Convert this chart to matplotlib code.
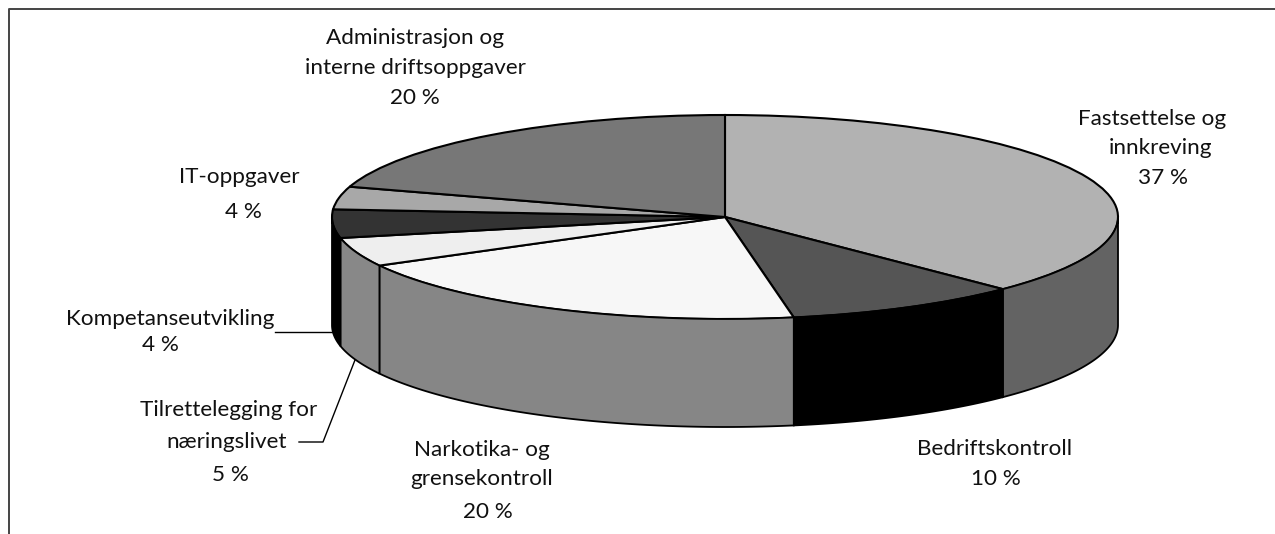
import numpy as np
import matplotlib
matplotlib.use("Agg")
import matplotlib.pyplot as plt

# clockwise from twelve o'clock
shares = [37.5, 9.7, 19.9, 4.6, 4.5, 3.6, 20.2]
top_colors = ["#b2b2b2", "#555555", "#f7f7f7", "#eeeeee", "#333333", "#a8a8a8", "#777777"]
side_colors = ["#636363", "#000000", "#868686", "#888888", "#000000", "#a8a8a8", "#777777"]

label_lines = ["Fastsettelse og", "innkreving", "37 %",
               "Bedriftskontroll", "10 %",
               "Narkotika- og", "grensekontroll", "20 %",
               "Tilrettelegging for", "næringslivet", "5 %",
               "Kompetanseutvikling", "4 %",
               "IT-oppgaver", "4 %",
               "Administrasjon og", "interne driftsoppgaver", "20 %"]
line_x = [1152, 1160, 1163, 995, 996, 482, 482, 488, 229, 227, 230, 170, 160, 239, 243, 415, 415, 415]
line_y = [119, 148, 178, 449, 479, 450, 479, 512, 410, 442, 475, 319, 345, 177, 212, 38, 68, 98]

plt.rcParams['font.family'] = ['Lato', 'DejaVu Sans']
fig = plt.figure(figsize=(12.75, 5.34), dpi=100)

# page layer, in pixels
page = fig.add_axes([0, 0, 1, 1])
page.set_xlim(0, 1275)
page.set_ylim(534, 0)
page.axis("off")
page.plot([8.5, 8.5, 1275], [534, 8.5, 8.5], color="#444444", lw=1.4)
page.plot([275, 333], [332, 332], color="black", lw=1)
page.plot([299, 323, 355], [442, 442, 360], color="black", lw=1)
for txt, x, y in zip(label_lines, line_x, line_y):
    page.text(x, y, txt, ha="center", va="center", fontsize=16.2, color="#111111")

# pie layer: unit ellipse squashed by a non-equal aspect
depth = 108 / 102
ax = fig.add_axes([332 / 1275, 1 - 427 / 534, 786 / 1275, 312 / 534])
ax.pie(shares, colors=top_colors, startangle=90, counterclock=False, radius=1,
       wedgeprops={"edgecolor": "black", "linewidth": 1.5})

edges = 90 - np.cumsum([0] + shares) * 3.6
for i in range(len(shares)):
    # only the part of each slice on the front half of the rim shows
    a = np.radians(edges[i])
    b = np.radians(edges[i + 1])
    t = np.linspace(a, b, 200)
    t = t[np.sin(t) < 0]
    if len(t) == 0:
        continue
    xs = np.cos(t)
    ys = np.sin(t)
    ax.fill(np.r_[xs, xs[::-1]], np.r_[ys, ys[::-1] - depth],
            facecolor=side_colors[i], edgecolor="black", linewidth=1.3, clip_on=False)

ax.set_aspect("auto")
ax.set_xlim(-1, 1)
ax.set_ylim(-1 - depth, 1)
ax.axis("off")
for p in ax.patches:
    p.set_clip_on(False)

fig.savefig("out.png", dpi=100)
